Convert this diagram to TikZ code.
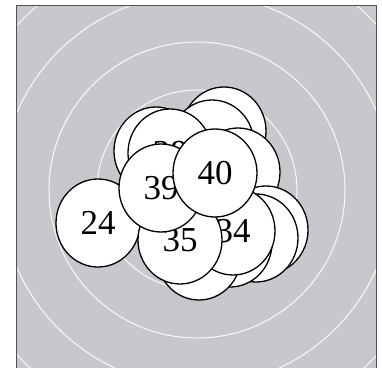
\documentclass[tikz,border=0pt]{standalone}
\usepackage{fontspec}
\setmainfont{Liberation Serif}
\usetikzlibrary{shapes.geometric}
\definecolor{bggray}{RGB}{199,200,205}
\definecolor{framegray}{RGB}{80,80,85}
\tikzset{
  token/.style={ellipse, draw=black, line width=1.3pt, fill=white,
    minimum width=84pt, minimum height=88pt, inner sep=0pt,
    font=\fontsize{35}{35}\selectfont},
  ring/.style={draw=white, line width=1pt, opacity=0.9}
}
\begin{document}
\begin{tikzpicture}[x=1pt,y=-1pt]
\useasboundingbox (0,0) rectangle (382,367);
\fill[white] (0,0) rectangle (382,367);
\fill[bggray] (16,5) rectangle (376,372);
\begin{scope}
  \clip (16,5) rectangle (376,372);
  \foreach \r in {52,100,148,196,244} {
    \draw[ring] (197,190) circle[radius=\r];
  }
\end{scope}
\draw[framegray, line width=0.9pt] (16,372) -- (16,5) -- (376,5) -- (376,372);
% background tokens
\node[token] (ta) at (224,131) {};
\node[token] (tb) at (212,144) {};
\node[token] (tc) at (156,151) {};
\node[token] (td) at (170,153) {38};
\node[token] (tf) at (238,172) {};
\node[token] (ti) at (266,230) {};
\node[token] (th) at (256,238) {};
\node[token] (tk) at (230,243) {};
\node[token] (tj) at (199,256) {};
% numbered tokens
\node[token] (t24) at (98,223) {24};
\node[token] (t34) at (233,231) {34};
\node[token] (t35) at (180,240) {35};
\node[token] (t39) at (161,188) {39};
\node[token] (t40) at (215,173) {40};
\end{tikzpicture}
\end{document}
